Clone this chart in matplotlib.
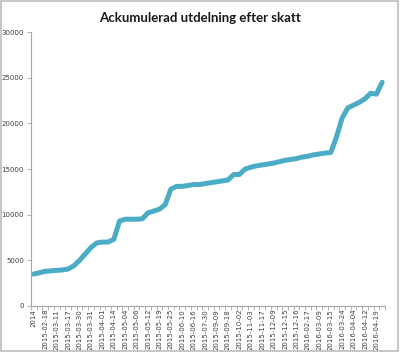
import numpy as np
import matplotlib
matplotlib.use("Agg")
import matplotlib.pyplot as plt
from matplotlib.patches import Rectangle

# shown category labels (every second category is labelled)
labels = ["2014", "2015-02-18", "2015-03-11", "2015-03-17", "2015-03-30",
          "2015-03-31", "2015-04-01", "2015-04-14", "2015-05-04", "2015-05-06",
          "2015-05-12", "2015-05-19", "2015-05-25", "2015-06-10", "2015-06-16",
          "2015-07-30", "2015-09-09", "2015-09-18", "2015-10-02", "2015-11-03",
          "2015-11-17", "2015-12-09", "2015-12-15", "2015-12-16", "2016-02-17",
          "2016-03-09", "2016-03-15", "2016-03-24", "2016-04-04", "2016-04-12",
          "2016-04-19"]

# accumulated dividend after tax, one value per category
values = [3500, 3650, 3800, 3850, 3900, 3950, 4050, 4400, 5000, 5700,
          6400, 6900, 7000, 7000, 7300, 9300, 9500, 9500, 9500, 9550,
          10200, 10400, 10600, 11100, 12800, 13100, 13100, 13200, 13300, 13300,
          13400, 13500, 13600, 13700, 13800, 14400, 14400, 15000, 15200, 15350,
          15450, 15550, 15650, 15800, 15950, 16050, 16150, 16300, 16400, 16550,
          16650, 16750, 16800, 18500, 20600, 21700, 22000, 22300, 22700, 23300,
          23200, 24500]

n = len(values)
x = np.arange(n)

fig = plt.figure(figsize=(4.0, 3.52), dpi=100)
fig.patches.append(Rectangle((0.002, 0.002), 0.994, 0.994, transform=fig.transFigure,
                             fill=False, edgecolor="#bdbdbd", linewidth=1.2))

ax = fig.add_axes([0.0775, 0.1307, 0.885, 0.7783])
ax.plot(x, values, color="#4BACC6", linewidth=3.6, solid_capstyle="round",
        solid_joinstyle="round")

ax.set_xlim(-0.5, n - 0.5)
ax.set_ylim(0, 30000)
ax.set_yticks(range(0, 30001, 5000))
ax.set_xticks(np.arange(0, len(labels) * 2, 2))
ax.set_xticklabels(labels, rotation=90)
ax.set_xticks(np.arange(-0.5, n, 1), minor=True)

for side in ["top", "right"]:
    ax.spines[side].set_visible(False)
for side in ["left", "bottom"]:
    ax.spines[side].set_color("#a6a6a6")
    ax.spines[side].set_linewidth(0.8)

ax.tick_params(axis="y", labelsize=5, colors="#a6a6a6", labelcolor="#404040",
               length=3, width=0.6, pad=2)
ax.tick_params(axis="x", which="major", labelsize=5, labelcolor="#404040",
               length=0, pad=2)
ax.tick_params(axis="x", which="minor", length=3, width=0.6, colors="#a6a6a6")

fig.text(0.5, 0.95, "Ackumulerad utdelning efter skatt", ha="center", va="center",
         fontsize=9.5, fontweight="bold", family="Lato", color="#1a1a1a")

fig.savefig("out.png", dpi=100)
